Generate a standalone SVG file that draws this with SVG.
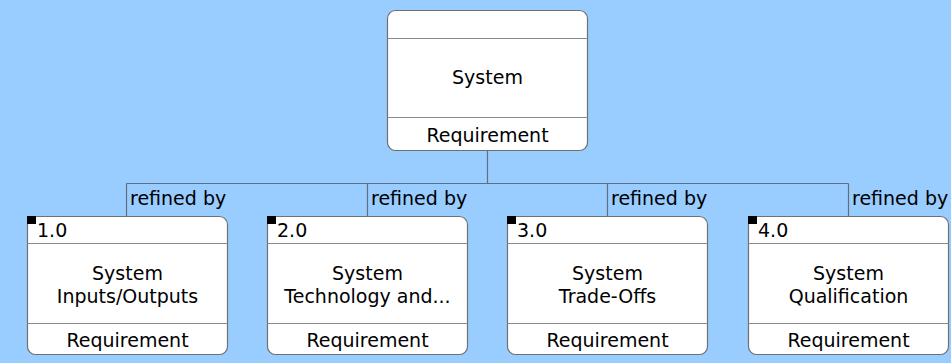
<svg xmlns="http://www.w3.org/2000/svg" width="951" height="363" viewBox="0 0 951 363">
<style>
.box{fill:#ffffff;stroke:#707070;stroke-width:1.2}
.div{stroke:#8a8a8a;stroke-width:1.2}
.con{fill:none;stroke:#5f6f7f;stroke-width:1.2}
text{font-family:"DejaVu Sans","Verdana",sans-serif;font-size:19px;fill:#000}
.c{text-anchor:middle}
</style>
<rect x="0" y="0" width="951" height="363" fill="#99ccff"/>
<g id="connectors">
<path class="con" d="M487.5 150V183.5M126.5 183.5H848.5M126.5 183.5V216M367.5 183.5V216M607.5 183.5V216M848.5 183.5V216"/>
<text x="130" y="205">refined by</text>
<text x="371" y="205">refined by</text>
<text x="611" y="205">refined by</text>
<text x="852" y="205">refined by</text>
</g>
<g id="system">
<rect class="box" x="387.5" y="10.5" width="200" height="140" rx="8"/>
<path class="div" d="M387.5 38.5H587.5M387.5 117.5H587.5"/>
<text class="c" x="487.5" y="84">System</text>
<text class="c" x="487.5" y="142">Requirement</text>
</g>
<g id="req1">
<rect class="box" x="27.5" y="216.5" width="200" height="138" rx="8"/>
<rect x="27" y="216" width="9" height="8" fill="#000"/>
<path class="div" d="M27.5 243.5H227.5M27.5 323.5H227.5"/>
<text x="37" y="237">1.0</text>
<text class="c" x="127.5" y="280">System</text>
<text class="c" x="127.5" y="303">Inputs/Outputs</text>
<text class="c" x="127.5" y="347">Requirement</text>
</g>
<g id="req2">
<rect class="box" x="267.5" y="216.5" width="200" height="138" rx="8"/>
<rect x="267" y="216" width="9" height="8" fill="#000"/>
<path class="div" d="M267.5 243.5H467.5M267.5 323.5H467.5"/>
<text x="277" y="237">2.0</text>
<text class="c" x="367.5" y="280">System</text>
<text class="c" x="367.5" y="303">Technology and...</text>
<text class="c" x="367.5" y="347">Requirement</text>
</g>
<g id="req3">
<rect class="box" x="507.5" y="216.5" width="200" height="138" rx="8"/>
<rect x="507" y="216" width="9" height="8" fill="#000"/>
<path class="div" d="M507.5 243.5H707.5M507.5 323.5H707.5"/>
<text x="517" y="237">3.0</text>
<text class="c" x="607.5" y="280">System</text>
<text class="c" x="607.5" y="303">Trade-Offs</text>
<text class="c" x="607.5" y="347">Requirement</text>
</g>
<g id="req4">
<rect class="box" x="748.5" y="216.5" width="200" height="138" rx="8"/>
<rect x="748" y="216" width="9" height="8" fill="#000"/>
<path class="div" d="M748.5 243.5H948.5M748.5 323.5H948.5"/>
<text x="758" y="237">4.0</text>
<text class="c" x="848.5" y="280">System</text>
<text class="c" x="848.5" y="303">Qualification</text>
<text class="c" x="848.5" y="347">Requirement</text>
</g>
</svg>
